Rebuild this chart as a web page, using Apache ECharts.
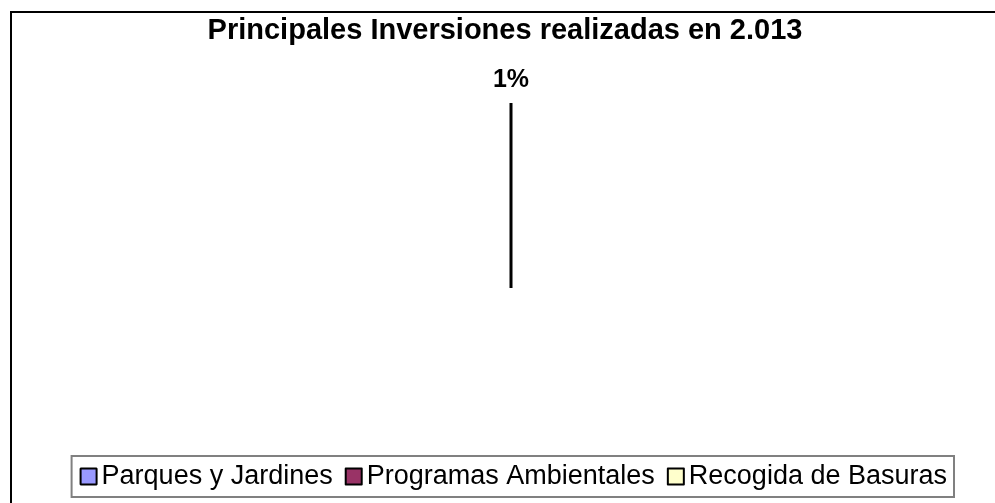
<!DOCTYPE html>
<html>
<head>
<meta charset="utf-8">
<script src="https://cdn.jsdelivr.net/npm/echarts@6/dist/echarts.min.js"></script>
<style>
  html, body { margin: 0; padding: 0; background: #fff; overflow: hidden; }
  #chart { width: 995px; height: 503px; }
</style>
</head>
<body>
<div id="chart"></div>
<script>
// categorias y porcentajes
const categories = ['Parques y Jardines', 'Programas Ambientales', 'Recogida de Basuras'];
const shares = [0, 1, 99];
const colors = ['#9999FF', '#993366', '#FFFFCC'];
const labelled = [false, true, false];

const pieCenter = [511, 288];
const pieRadius = 185;

const chart = echarts.init(document.getElementById('chart'));

var option = {
    animation: false,
    title: {
        text: 'Principales Inversiones realizadas en 2.013',
        left: 505,
        textAlign: 'center',
        top: 16,
        padding: 0,
        textStyle: {
            fontFamily: 'Liberation Sans',
            fontWeight: 'bold',
            fontSize: 29,
            color: '#000'
        }
    },
    graphic: [{
        // marco del grafico
        type: 'rect',
        shape: { x: 11, y: 12, width: 1000, height: 520 },
        style: { fill: 'none', stroke: '#000', lineWidth: 2 },
        silent: true
    }],
    legend: {
        data: categories.map((name, i) => ({
            name: name,
            itemStyle: { color: colors[i], borderColor: '#000', borderWidth: 2 }
        })),
        right: 41,
        top: 456,
        padding: [6, 7, 6, 8],
        itemWidth: 16,
        itemHeight: 16,
        itemGap: 12,
        borderColor: '#808080',
        borderWidth: 2,
        icon: 'rect',
        selectedMode: false,
        textStyle: {
            fontFamily: 'Liberation Sans',
            fontSize: 27,
            lineHeight: 29,
            color: '#000'
        }
    },
    series: [{
        type: 'pie',
        center: pieCenter,
        radius: pieRadius,
        startAngle: 90,
        clockwise: true,
        silent: true,
        emphasis: { disabled: true },
        data: categories.map((name, i) => ({
            name: name,
            value: shares[i],
            itemStyle: i === 0
                ? { color: 'rgba(0,0,0,0)', borderColor: '#000', borderWidth: 3, borderJoin: 'bevel' }
                : { color: 'rgba(0,0,0,0)', borderWidth: 0 },
            label: { show: labelled[i] }
        })),
        label: {
            position: 'outside',
            formatter: '{d}%',
            fontFamily: 'Liberation Sans',
            fontWeight: 'bold',
            fontSize: 25,
            color: '#000'
        },
        labelLine: { show: false, length: 23, length2: 0 },
        labelLayout: function () {
            return { x: pieCenter[0], align: 'center' };
        }
    }]
};

chart.setOption(option);
</script>
</body>
</html>
